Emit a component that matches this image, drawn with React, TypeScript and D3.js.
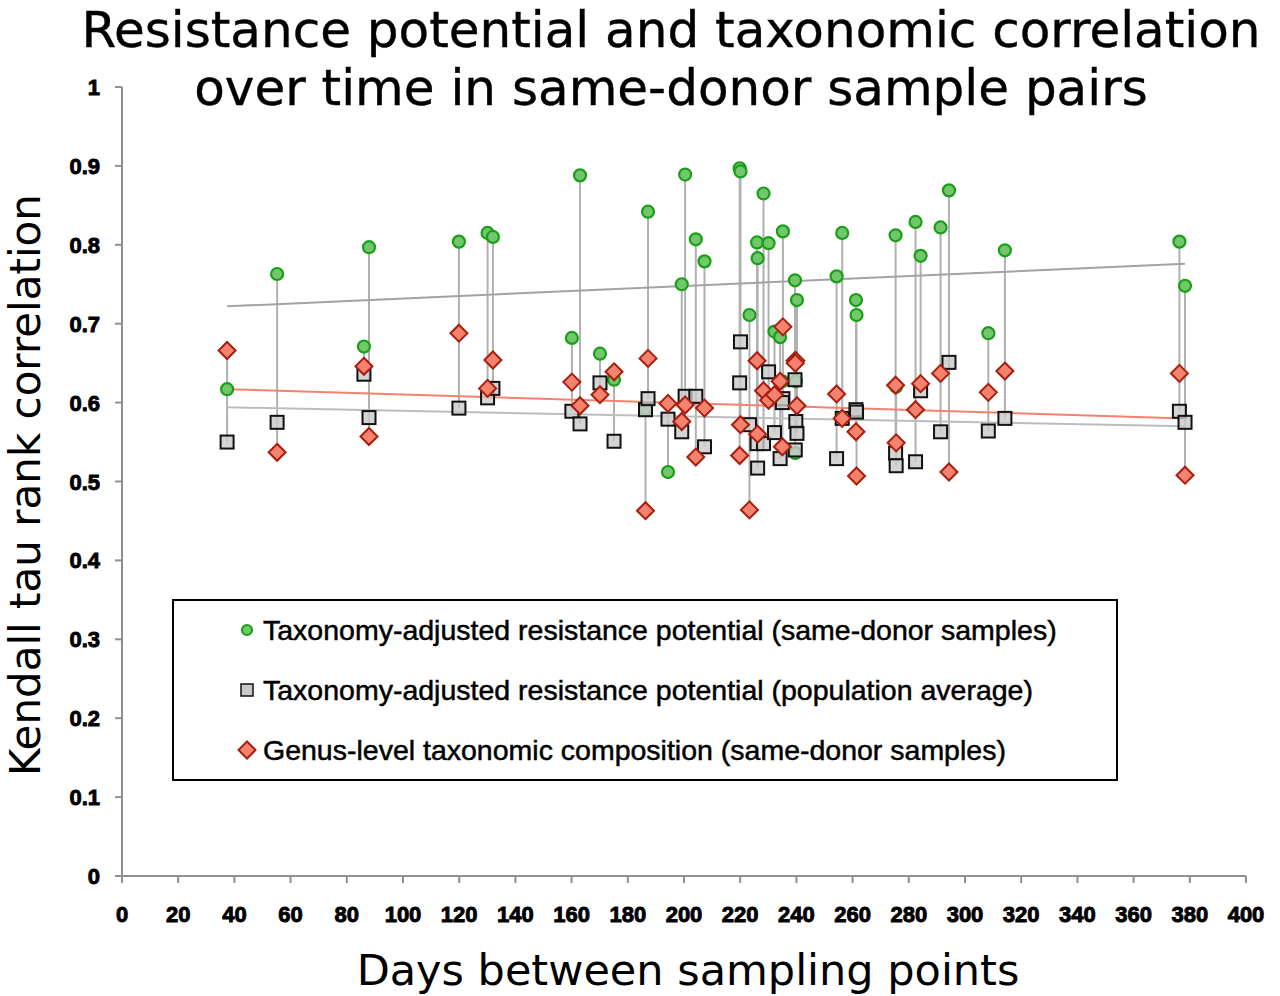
import { useEffect, useRef } from 'react';
import * as d3 from 'd3';

// Days between the two samples of each same-donor pair
const days = [
  37.4, 55.2, 86.1, 87.9, 119.9, 130.1, 132.0, 160.1, 163.0, 170.1,
  175.1, 186.3, 187.2, 194.3, 199.2, 200.4, 204.2, 207.3, 219.8, 220.1,
  223.3, 226.0, 226.2, 228.3, 230.1, 232.2, 234.2, 235.2, 235.0, 239.5,
  239.8, 240.2, 239.6, 254.3, 256.3, 261.2, 261.4, 275.3, 275.5, 282.4,
  284.2, 291.3, 294.3, 308.3, 314.2, 376.3, 378.3,
];

// Taxonomy-adjusted resistance potential, same-donor samples
const sameDonor = [
  0.617, 0.763, 0.671, 0.797, 0.804, 0.815, 0.810, 0.682, 0.888, 0.662,
  0.629, 0.591, 0.842, 0.512, 0.750, 0.889, 0.807, 0.779, 0.897, 0.893,
  0.711, 0.803, 0.783, 0.865, 0.802, 0.690, 0.683, 0.817, 0.627, 0.755,
  0.627, 0.730, 0.536, 0.760, 0.815, 0.730, 0.711, 0.812, 0.620, 0.829,
  0.786, 0.822, 0.869, 0.688, 0.793, 0.804, 0.748,
];

// Taxonomy-adjusted resistance potential, population average
const popAverage = [
  0.550, 0.575, 0.636, 0.581, 0.593, 0.606, 0.618, 0.589, 0.573, 0.625,
  0.551, 0.591, 0.605, 0.579, 0.563, 0.608, 0.608, 0.544, 0.625, 0.677,
  0.572, 0.548, 0.517, 0.548, 0.639, 0.562, 0.529, 0.605, 0.600, 0.629,
  0.576, 0.561, 0.540, 0.529, 0.580, 0.591, 0.588, 0.536, 0.520, 0.525,
  0.615, 0.563, 0.651, 0.564, 0.580, 0.589, 0.575,
];

// Genus-level taxonomic composition, same-donor samples
const genusLevel = [
  0.666, 0.537, 0.646, 0.557, 0.688, 0.618, 0.654, 0.626, 0.596, 0.610,
  0.639, 0.463, 0.656, 0.599, 0.576, 0.597, 0.531, 0.593, 0.533, 0.572,
  0.464, 0.653, 0.560, 0.615, 0.603, 0.610, 0.627, 0.696, 0.544, 0.653,
  0.653, 0.596, 0.650, 0.611, 0.580, 0.563, 0.507, 0.622, 0.549, 0.591,
  0.624, 0.637, 0.512, 0.613, 0.640, 0.637, 0.508,
];

// Linear trend lines (start / end)
const trendDays = [37.4, 378.3];
const trendSameDonor = [0.722, 0.776];
const trendPopAverage = [0.594, 0.570];
const trendGenus = [0.617, 0.580];

const xTicks = d3.range(0, 401, 20);
const yTicks = d3.range(0, 11).map(i => i / 10);

const legendItems = [
  'Taxonomy-adjusted resistance potential (same-donor samples)',
  'Taxonomy-adjusted resistance potential (population average)',
  'Genus-level taxonomic composition (same-donor samples)',
];

const GREEN_FILL = '#72c76a';
const GREEN_STROKE = '#1a9e1a';
const SQUARE_FILL = '#c9c9c9';
const DIAMOND_FILL = '#f4826e';
const DIAMOND_STROKE = '#a81e0e';

export default function App() {
  const svgRef = useRef<SVGSVGElement>(null);

  useEffect(() => {
    if (!svgRef.current) return;
    const svg = d3.select(svgRef.current);
    svg.selectAll('*').remove();

    const x = d3.scaleLinear().domain([0, 400]).range([122, 1246]);
    const y = d3.scaleLinear().domain([0, 1]).range([876, 87]);

    // Title
    const title = svg.append('text')
      .attr('text-anchor', 'middle')
      .attr('font-family', 'DejaVu Sans')
      .attr('font-size', 50)
      .attr('fill', '#000')
      .attr('stroke', '#000')
      .attr('stroke-width', 0.4);
    title.append('tspan').attr('x', 671).attr('y', 47)
      .text('Resistance potential and taxonomic correlation');
    title.append('tspan').attr('x', 671).attr('y', 105)
      .text('over time in same-donor sample pairs');

    // Axes
    const axisColor = '#8f8f8f';
    svg.append('line')
      .attr('x1', x(0)).attr('x2', x(0)).attr('y1', y(1)).attr('y2', y(0))
      .attr('stroke', axisColor).attr('stroke-width', 2);
    svg.append('line')
      .attr('x1', x(0)).attr('x2', x(400)).attr('y1', y(0)).attr('y2', y(0))
      .attr('stroke', axisColor).attr('stroke-width', 2);

    svg.append('g').selectAll('line').data(yTicks).join('line')
      .attr('x1', x(0) - 7).attr('x2', x(0))
      .attr('y1', d => y(d)).attr('y2', d => y(d))
      .attr('stroke', axisColor).attr('stroke-width', 2);
    svg.append('g').selectAll('line').data(xTicks).join('line')
      .attr('x1', d => x(d)).attr('x2', d => x(d))
      .attr('y1', y(0)).attr('y2', y(0) + 7)
      .attr('stroke', axisColor).attr('stroke-width', 2);

    const tickFont = (sel: any) => sel
      .attr('font-family', 'Liberation Sans, Arial')
      .attr('font-weight', 'bold')
      .attr('font-size', 22)
      .attr('fill', '#000')
      .attr('stroke', '#000')
      .attr('stroke-width', 0.9);

    svg.append('g').selectAll('text').data(yTicks).join('text')
      .attr('x', 100).attr('y', d => y(d) + 8)
      .attr('text-anchor', 'end')
      .call(tickFont)
      .text(d => d3.format('~g')(d));
    svg.append('g').selectAll('text').data(xTicks).join('text')
      .attr('x', d => x(d)).attr('y', 922)
      .attr('text-anchor', 'middle')
      .call(tickFont)
      .text(d => String(d));

    // Axis titles
    svg.append('text')
      .attr('x', 688).attr('y', 985)
      .attr('text-anchor', 'middle')
      .attr('font-family', 'DejaVu Sans')
      .attr('font-size', 43)
      .text('Days between sampling points');
    svg.append('text')
      .attr('transform', 'translate(40, 485) rotate(-90)')
      .attr('text-anchor', 'middle')
      .attr('font-family', 'DejaVu Sans')
      .attr('font-size', 42)
      .text('Kendall tau rank correlation');

    // High-low lines joining the three values of each pair
    const rows = days.map((d, i) => ({
      day: d,
      green: sameDonor[i],
      square: popAverage[i],
      diamond: genusLevel[i],
    }));
    svg.append('g').selectAll('line').data(rows).join('line')
      .attr('x1', d => x(d.day)).attr('x2', d => x(d.day))
      .attr('y1', d => y(Math.max(d.green, d.square, d.diamond)))
      .attr('y2', d => y(Math.min(d.green, d.square, d.diamond)))
      .attr('stroke', '#b0b0b0').attr('stroke-width', 2);

    // Trend lines
    const trend = (vals: number[], color: string) => {
      svg.append('line')
        .attr('x1', x(trendDays[0])).attr('y1', y(vals[0]))
        .attr('x2', x(trendDays[1])).attr('y2', y(vals[1]))
        .attr('stroke', color).attr('stroke-width', 2);
    };
    trend(trendSameDonor, '#a3a3a3');
    trend(trendPopAverage, '#bdbdbd');
    trend(trendGenus, '#f4826e');

    // Markers
    const circle = (g: any, cx: number, cy: number, r = 6) => g.append('circle')
      .attr('cx', cx).attr('cy', cy).attr('r', r)
      .attr('fill', GREEN_FILL).attr('stroke', GREEN_STROKE).attr('stroke-width', 2.2);
    const square = (g: any, cx: number, cy: number) => g.append('rect')
      .attr('x', cx - 6.5).attr('y', cy - 6.5).attr('width', 13).attr('height', 13)
      .attr('fill', SQUARE_FILL).attr('fill-opacity', 0.8)
      .attr('stroke', '#111').attr('stroke-width', 2);
    const diamond = (g: any, cx: number, cy: number) => g.append('path')
      .attr('d', `M${cx},${cy - 8.5}L${cx + 8.5},${cy}L${cx},${cy + 8.5}L${cx - 8.5},${cy}Z`)
      .attr('fill', DIAMOND_FILL).attr('stroke', DIAMOND_STROKE).attr('stroke-width', 2);

    const gGreen = svg.append('g');
    rows.forEach(r => circle(gGreen, x(r.day), y(r.green)));
    const gSquare = svg.append('g');
    rows.forEach(r => square(gSquare, x(r.day), y(r.square)));
    const gDiamond = svg.append('g');
    rows.forEach(r => diamond(gDiamond, x(r.day), y(r.diamond)));

    // Legend
    const legend = svg.append('g');
    legend.append('rect')
      .attr('x', 173).attr('y', 600).attr('width', 944).attr('height', 180)
      .attr('fill', '#fff').attr('stroke', '#000').attr('stroke-width', 2);
    legendItems.forEach((label, i) => {
      const cy = 630 + i * 60;
      const mg = legend.append('g');
      if (i === 0) {
        circle(mg, 247, cy, 5);
      } else if (i === 1) {
        mg.append('rect').attr('x', 241).attr('y', cy - 6).attr('width', 12).attr('height', 12)
          .attr('fill', SQUARE_FILL).attr('stroke', '#111').attr('stroke-width', 1.5);
      } else {
        diamond(mg, 247, cy);
      }
      legend.append('text')
        .attr('x', 263).attr('y', cy + 10)
        .attr('font-family', 'Liberation Sans, Arial')
        .attr('font-size', 28.5)
        .attr('fill', '#000')
        .attr('stroke', '#000').attr('stroke-width', 0.5)
        .text(label);
    });
  }, []);

  return (
    <svg
      ref={svgRef}
      width={1280}
      height={996}
      style={{ position: 'absolute', left: 0, top: 0, background: '#fff', display: 'block' }}
    />
  );
}
